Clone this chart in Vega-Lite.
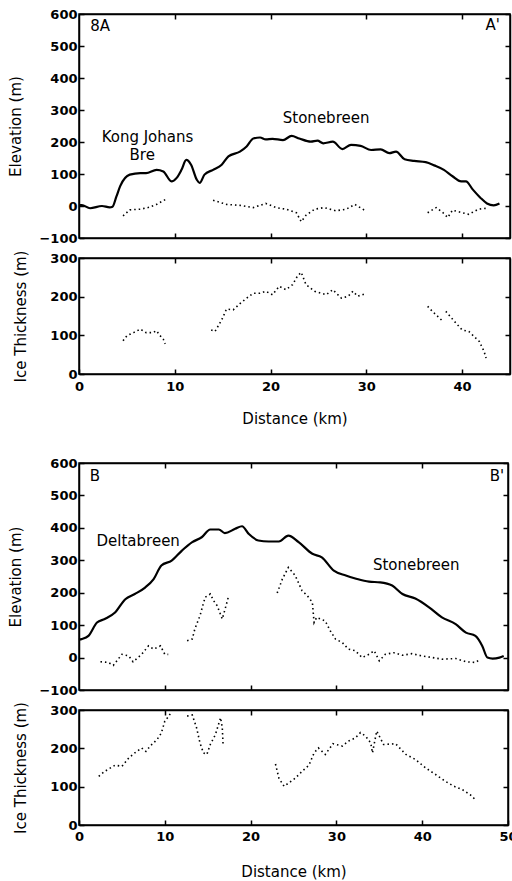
{
  "$schema": "https://vega.github.io/schema/vega-lite/v6.json",
  "padding": {"left": 8, "top": 7, "right": 0, "bottom": 0},
  "config": {
    "font": "DejaVu Sans",
    "view": {"stroke": "black", "strokeWidth": 1.5},
    "concat": {"spacing": 29},
    "axis": {"domainColor": "black", "domainWidth": 1.5, "tickColor": "black", "tickWidth": 1.5, "tickSize": -5, "labelPadding": 7, "labelFontSize": 13, "labelFontWeight": "bold", "labelColor": "black", "labelFont": "DejaVu Sans", "labelFlush": false, "labelOverlap": false, "grid": false, "titleFontSize": 15, "titleFontWeight": "normal", "titleColor": "black", "titleFont": "DejaVu Sans"},
    "text": {"font": "DejaVu Sans", "fontSize": 15, "color": "black"}
  },
  "datasets": {
    "aSurf": [{"x":0,"y":3},{"x":0.3,"y":3},{"x":1.15,"y":-7},{"x":2.4,"y":0},{"x":3.2,"y":-4},{"x":3.5,"y":-2},{"x":3.9,"y":29},{"x":4.3,"y":62},{"x":5.3,"y":98},{"x":6.4,"y":103},{"x":7.0,"y":103},{"x":8.1,"y":113},{"x":8.8,"y":108},{"x":9.65,"y":77},{"x":10.2,"y":88},{"x":10.7,"y":113},{"x":11.2,"y":144},{"x":11.7,"y":129},{"x":12.3,"y":82},{"x":12.6,"y":72},{"x":13.1,"y":98},{"x":14.0,"y":113},{"x":14.9,"y":129},{"x":15.6,"y":155},{"x":16.8,"y":170},{"x":17.5,"y":186},{"x":18.2,"y":211},{"x":18.9,"y":214},{"x":19.5,"y":208},{"x":20.2,"y":210},{"x":21.3,"y":206},{"x":22.2,"y":219},{"x":23.0,"y":211},{"x":24.2,"y":201},{"x":24.9,"y":204},{"x":25.5,"y":196},{"x":26.5,"y":201},{"x":27.5,"y":178},{"x":28.4,"y":191},{"x":29.4,"y":188},{"x":30.5,"y":175},{"x":31.5,"y":177},{"x":32.4,"y":165},{"x":33.1,"y":170},{"x":34.0,"y":146},{"x":35.0,"y":141},{"x":36.2,"y":137},{"x":37.1,"y":127},{"x":38.1,"y":113},{"x":39.0,"y":93},{"x":39.9,"y":77},{"x":40.4,"y":77},{"x":41.1,"y":52},{"x":41.9,"y":26},{"x":42.6,"y":8},{"x":43.3,"y":2},{"x":43.9,"y":8}],
    "aBed": [{"s":1,"x":4.6,"y":-31},{"s":1,"x":5.3,"y":-12},{"s":1,"x":6.4,"y":-10},{"s":1,"x":7.2,"y":-5},{"s":1,"x":8.1,"y":5},{"s":1,"x":9.0,"y":20},
      {"s":2,"x":14.0,"y":18},{"s":2,"x":15.4,"y":5},{"s":2,"x":16.8,"y":2},{"s":2,"x":18.2,"y":-5},{"s":2,"x":19.5,"y":8},{"s":2,"x":20.6,"y":-5},{"s":2,"x":21.6,"y":-10},{"s":2,"x":22.7,"y":-21},{"s":2,"x":23.2,"y":-49},{"s":2,"x":23.7,"y":-29},{"s":2,"x":24.6,"y":-10},{"s":2,"x":25.6,"y":-5},{"s":2,"x":26.8,"y":-15},{"s":2,"x":27.9,"y":-10},{"s":2,"x":28.8,"y":5},{"s":2,"x":29.8,"y":-13},
      {"s":3,"x":36.4,"y":-21},{"s":3,"x":37.3,"y":-5},{"s":3,"x":38.0,"y":-21},{"s":3,"x":38.5,"y":-36},{"s":3,"x":39.0,"y":-13},{"s":3,"x":40.0,"y":-21},{"s":3,"x":40.7,"y":-26},{"s":3,"x":41.7,"y":-10},{"s":3,"x":42.6,"y":-7}],
    "aIce": [{"s":1,"x":4.6,"y":86},{"s":1,"x":5.0,"y":99},{"s":1,"x":5.7,"y":107},{"s":1,"x":6.4,"y":116},{"s":1,"x":7.0,"y":107},{"s":1,"x":7.7,"y":107},{"s":1,"x":8.1,"y":112},{"s":1,"x":8.4,"y":101},{"s":1,"x":8.8,"y":90},{"s":1,"x":9.0,"y":78},
      {"s":2,"x":13.8,"y":114},{"s":2,"x":14.2,"y":110},{"s":2,"x":14.9,"y":140},{"s":2,"x":15.4,"y":168},{"s":2,"x":16.1,"y":166},{"s":2,"x":16.8,"y":182},{"s":2,"x":17.5,"y":196},{"s":2,"x":18.2,"y":209},{"s":2,"x":18.9,"y":209},{"s":2,"x":19.5,"y":214},{"s":2,"x":20.2,"y":205},{"s":2,"x":20.9,"y":227},{"s":2,"x":21.6,"y":218},{"s":2,"x":22.3,"y":231},{"s":2,"x":22.8,"y":253},{"s":2,"x":23.2,"y":263},{"s":2,"x":23.7,"y":231},{"s":2,"x":24.6,"y":214},{"s":2,"x":25.8,"y":205},{"s":2,"x":26.5,"y":218},{"s":2,"x":27.4,"y":196},{"s":2,"x":28.1,"y":201},{"s":2,"x":28.6,"y":214},{"s":2,"x":29.1,"y":201},{"s":2,"x":29.8,"y":207},{"s":2,"x":30.0,"y":205},
      {"s":3,"x":36.4,"y":175},{"s":3,"x":36.9,"y":162},{"s":3,"x":38.0,"y":136},{"s":4,"x":38.3,"y":162},{"s":4,"x":39.2,"y":136},{"s":4,"x":40.0,"y":114},{"s":4,"x":40.7,"y":110},{"s":4,"x":41.8,"y":84},{"s":4,"x":42.3,"y":58},{"s":4,"x":42.5,"y":41}],
    "bSurf": [{"x":0,"y":55},{"x":0.3,"y":57},{"x":1.1,"y":67},{"x":2.1,"y":108},{"x":3.0,"y":119},{"x":4.2,"y":139},{"x":5.4,"y":180},{"x":6.5,"y":196},{"x":7.7,"y":216},{"x":8.7,"y":242},{"x":9.6,"y":284},{"x":10.8,"y":299},{"x":12.0,"y":330},{"x":13.2,"y":356},{"x":14.3,"y":371},{"x":15.3,"y":395},{"x":16.3,"y":395},{"x":17.0,"y":384},{"x":18.2,"y":397},{"x":19.0,"y":405},{"x":19.8,"y":381},{"x":20.9,"y":361},{"x":22.1,"y":358},{"x":23.3,"y":358},{"x":24.4,"y":376},{"x":25.6,"y":356},{"x":27.2,"y":320},{"x":28.3,"y":309},{"x":29.7,"y":268},{"x":31.1,"y":253},{"x":32.2,"y":244},{"x":33.8,"y":234},{"x":35.1,"y":232},{"x":36.5,"y":222},{"x":37.7,"y":196},{"x":39.2,"y":182},{"x":40.8,"y":155},{"x":42.3,"y":124},{"x":43.9,"y":103},{"x":45.1,"y":77},{"x":46.2,"y":67},{"x":47.0,"y":36},{"x":47.6,"y":0},{"x":48.2,"y":-3},{"x":49.0,"y":0},{"x":49.5,"y":5}],
    "bBed": [{"s":1,"x":2.5,"y":-13},{"s":1,"x":3.4,"y":-15},{"s":1,"x":4.0,"y":-24},{"s":1,"x":5.0,"y":10},{"s":1,"x":5.8,"y":5},{"s":1,"x":6.3,"y":-13},{"s":1,"x":7.3,"y":10},{"s":1,"x":8.1,"y":36},{"s":1,"x":8.7,"y":26},{"s":1,"x":9.5,"y":36},{"s":1,"x":10.0,"y":10},{"s":1,"x":10.4,"y":10},
      {"s":2,"x":12.6,"y":52},{"s":2,"x":13.2,"y":57},{"s":2,"x":13.5,"y":88},{"s":2,"x":14.1,"y":129},{"s":2,"x":14.7,"y":186},{"s":2,"x":15.3,"y":196},{"s":2,"x":15.7,"y":175},{"s":2,"x":16.1,"y":160},{"s":2,"x":16.7,"y":119},{"s":2,"x":17.0,"y":147},{"s":2,"x":17.4,"y":186},
      {"s":3,"x":23.1,"y":199},{"s":3,"x":23.7,"y":242},{"s":3,"x":24.4,"y":278},{"s":3,"x":25.2,"y":253},{"s":3,"x":26.0,"y":206},{"s":3,"x":26.6,"y":191},{"s":3,"x":27.2,"y":170},{"s":3,"x":27.4,"y":108},{"s":3,"x":27.7,"y":124},{"s":3,"x":28.7,"y":113},{"s":3,"x":29.3,"y":82},{"s":3,"x":29.9,"y":57},{"s":3,"x":30.7,"y":46},{"s":3,"x":31.4,"y":26},{"s":3,"x":32.2,"y":21},{"s":3,"x":33.0,"y":0},{"s":3,"x":33.8,"y":10},{"s":3,"x":34.4,"y":21},{"s":3,"x":35.0,"y":-10},{"s":3,"x":35.7,"y":10},{"s":3,"x":36.7,"y":15},{"s":3,"x":37.7,"y":7},{"s":3,"x":38.8,"y":12},{"s":3,"x":40.0,"y":5},{"s":3,"x":41.2,"y":0},{"s":3,"x":42.3,"y":-5},{"s":3,"x":43.9,"y":-3},{"s":3,"x":45.1,"y":-13},{"s":3,"x":46.2,"y":-15},{"s":3,"x":46.8,"y":-5}],
    "bIce": [{"s":1,"x":2.3,"y":127},{"s":1,"x":3.0,"y":140},{"s":1,"x":4.2,"y":156},{"s":1,"x":5.0,"y":153},{"s":1,"x":5.8,"y":175},{"s":1,"x":6.5,"y":188},{"s":1,"x":7.3,"y":201},{"s":1,"x":7.8,"y":192},{"s":1,"x":8.3,"y":206},{"s":1,"x":9.1,"y":223},{"s":1,"x":9.6,"y":240},{"s":1,"x":10.0,"y":271},{"s":1,"x":10.4,"y":282},{"s":1,"x":10.8,"y":296},
      {"s":2,"x":12.6,"y":284},{"s":2,"x":13.2,"y":287},{"s":2,"x":13.7,"y":254},{"s":2,"x":14.1,"y":214},{"s":2,"x":14.5,"y":188},{"s":2,"x":14.9,"y":184},{"s":2,"x":15.3,"y":210},{"s":2,"x":15.9,"y":236},{"s":2,"x":16.5,"y":280},{"s":2,"x":16.7,"y":254},{"s":2,"x":16.8,"y":206},
      {"s":3,"x":22.9,"y":159},{"s":3,"x":23.3,"y":122},{"s":3,"x":23.9,"y":101},{"s":3,"x":24.4,"y":109},{"s":3,"x":25.2,"y":122},{"s":3,"x":26.0,"y":140},{"s":3,"x":26.8,"y":156},{"s":3,"x":27.4,"y":188},{"s":3,"x":27.9,"y":201},{"s":3,"x":28.7,"y":184},{"s":3,"x":29.6,"y":212},{"s":3,"x":30.7,"y":206},{"s":3,"x":31.4,"y":219},{"s":3,"x":32.2,"y":227},{"s":3,"x":32.8,"y":241},{"s":3,"x":33.4,"y":232},{"s":3,"x":34.0,"y":214},{"s":3,"x":34.2,"y":188},{"s":3,"x":34.7,"y":245},{"s":3,"x":35.5,"y":210},{"s":3,"x":36.9,"y":212},{"s":3,"x":38.1,"y":184},{"s":3,"x":39.2,"y":171},{"s":3,"x":40.4,"y":149},{"s":3,"x":41.6,"y":131},{"s":3,"x":42.7,"y":114},{"s":3,"x":43.7,"y":101},{"s":3,"x":44.7,"y":92},{"s":3,"x":45.6,"y":79},{"s":3,"x":46.2,"y":66}],
    "labels": [{"p":"A","x":2.2,"y":562,"txt":"8A"},{"p":"A","x":43.2,"y":565,"txt":"A'"},{"p":"A","x":7.15,"y":216,"txt":"Kong Johans"},{"p":"A","x":6.6,"y":159,"txt":"Bre"},{"p":"A","x":25.8,"y":275,"txt":"Stonebreen"},
      {"p":"B","x":1.86,"y":559,"txt":"B"},{"p":"B","x":48.7,"y":559,"txt":"B'"},{"p":"B","x":6.9,"y":361,"txt":"Deltabreen"},{"p":"B","x":39.3,"y":284,"txt":"Stonebreen"}]
  },
  "vconcat": [
    {
      "spacing": 20, "bounds": "flush",
      "vconcat": [
        {
          "width": 431, "height": 224,
          "layer": [
            {"data": {"name": "aSurf"}, "mark": {"type": "line", "color": "black", "strokeWidth": 2.2, "interpolate": "monotone"},
             "encoding": {"x": {"field": "x", "type": "quantitative", "scale": {"domain": [0, 45], "nice": false}, "axis": {"orient": "bottom", "values": [10, 20, 30, 40], "labels": false, "title": null}},
                          "y": {"field": "y", "type": "quantitative", "scale": {"domain": [-100, 600], "nice": false}, "axis": {"orient": "left", "values": [-100, 0, 100, 200, 300, 400, 500, 600], "title": "Elevation (m)", "titlePadding": 15}}}},
            {"data": {"name": "aBed"}, "mark": {"type": "line", "color": "black", "strokeWidth": 1.6, "strokeDash": [1.5, 3]},
             "encoding": {"x": {"field": "x", "type": "quantitative", "axis": null}, "y": {"field": "y", "type": "quantitative", "axis": null}, "detail": {"field": "s"}}},
            {"data": {"name": "labels"}, "transform": [{"filter": "datum.p == 'A'"}], "mark": {"type": "text"},
             "encoding": {"x": {"field": "x", "type": "quantitative", "axis": null}, "y": {"field": "y", "type": "quantitative", "axis": null}, "text": {"field": "txt"}}},
            {"data": {"name": "aSurf"}, "mark": {"type": "line", "opacity": 0},
             "encoding": {"x": {"field": "x", "type": "quantitative", "axis": {"orient": "top", "values": [10, 20, 30, 40], "labels": false, "title": null}},
                          "y": {"field": "y", "type": "quantitative", "axis": {"orient": "right", "values": [-100, 0, 100, 200, 300, 400, 500, 600], "labels": false, "title": null}}}}
          ],
          "resolve": {"axis": {"x": "independent", "y": "independent"}}
        },
        {
          "width": 431, "height": 116,
          "layer": [
            {"data": {"name": "aIce"}, "mark": {"type": "line", "color": "black", "strokeWidth": 1.6, "strokeDash": [1.5, 3], "clip": true},
             "encoding": {"x": {"field": "x", "type": "quantitative", "scale": {"domain": [0, 45], "nice": false}, "axis": {"orient": "bottom", "values": [0, 10, 20, 30, 40], "title": "Distance (km)", "labelPadding": 11, "titlePadding": 18}},
                          "y": {"field": "y", "type": "quantitative", "scale": {"domain": [0, 300], "nice": false}, "axis": {"orient": "left", "values": [0, 100, 200, 300], "title": "Ice Thickness (m)", "titlePadding": 21}},
                          "detail": {"field": "s"}}},
            {"data": {"name": "aIce"}, "mark": {"type": "line", "opacity": 0},
             "encoding": {"x": {"field": "x", "type": "quantitative", "axis": {"orient": "top", "values": [10, 20, 30, 40], "labels": false, "title": null}},
                          "y": {"field": "y", "type": "quantitative", "axis": {"orient": "right", "values": [0, 100, 200, 300], "labels": false, "title": null}}}}
          ],
          "resolve": {"axis": {"x": "independent", "y": "independent"}}
        }
      ]
    },
    {
      "spacing": 20, "bounds": "flush",
      "vconcat": [
        {
          "width": 429, "height": 227,
          "layer": [
            {"data": {"name": "bSurf"}, "mark": {"type": "line", "color": "black", "strokeWidth": 2.2, "interpolate": "monotone"},
             "encoding": {"x": {"field": "x", "type": "quantitative", "scale": {"domain": [0, 50], "nice": false}, "axis": {"orient": "bottom", "values": [10, 20, 30, 40], "labels": false, "title": null}},
                          "y": {"field": "y", "type": "quantitative", "scale": {"domain": [-100, 600], "nice": false}, "axis": {"orient": "left", "values": [-100, 0, 100, 200, 300, 400, 500, 600], "title": "Elevation (m)", "titlePadding": 15}}}},
            {"data": {"name": "bBed"}, "mark": {"type": "line", "color": "black", "strokeWidth": 1.6, "strokeDash": [1.5, 3]},
             "encoding": {"x": {"field": "x", "type": "quantitative", "axis": null}, "y": {"field": "y", "type": "quantitative", "axis": null}, "detail": {"field": "s"}}},
            {"data": {"name": "labels"}, "transform": [{"filter": "datum.p == 'B'"}], "mark": {"type": "text"},
             "encoding": {"x": {"field": "x", "type": "quantitative", "axis": null}, "y": {"field": "y", "type": "quantitative", "axis": null}, "text": {"field": "txt"}}},
            {"data": {"name": "bSurf"}, "mark": {"type": "line", "opacity": 0},
             "encoding": {"x": {"field": "x", "type": "quantitative", "axis": {"orient": "top", "values": [10, 20, 30, 40], "labels": false, "title": null}},
                          "y": {"field": "y", "type": "quantitative", "axis": {"orient": "right", "values": [-100, 0, 100, 200, 300, 400, 500, 600], "labels": false, "title": null}}}}
          ],
          "resolve": {"axis": {"x": "independent", "y": "independent"}}
        },
        {
          "width": 429, "height": 115,
          "layer": [
            {"data": {"name": "bIce"}, "mark": {"type": "line", "color": "black", "strokeWidth": 1.6, "strokeDash": [1.5, 3], "clip": true},
             "encoding": {"x": {"field": "x", "type": "quantitative", "scale": {"domain": [0, 50], "nice": false}, "axis": {"orient": "bottom", "values": [0, 10, 20, 30, 40, 50], "title": "Distance (km)", "labelPadding": 10, "titlePadding": 21}},
                          "y": {"field": "y", "type": "quantitative", "scale": {"domain": [0, 300], "nice": false}, "axis": {"orient": "left", "values": [0, 100, 200, 300], "title": "Ice Thickness (m)", "titlePadding": 21}},
                          "detail": {"field": "s"}}},
            {"data": {"name": "bIce"}, "mark": {"type": "line", "opacity": 0},
             "encoding": {"x": {"field": "x", "type": "quantitative", "axis": {"orient": "top", "values": [10, 20, 30, 40], "labels": false, "title": null}},
                          "y": {"field": "y", "type": "quantitative", "axis": {"orient": "right", "values": [0, 100, 200, 300], "labels": false, "title": null}}}}
          ],
          "resolve": {"axis": {"x": "independent", "y": "independent"}}
        }
      ]
    }
  ]
}
